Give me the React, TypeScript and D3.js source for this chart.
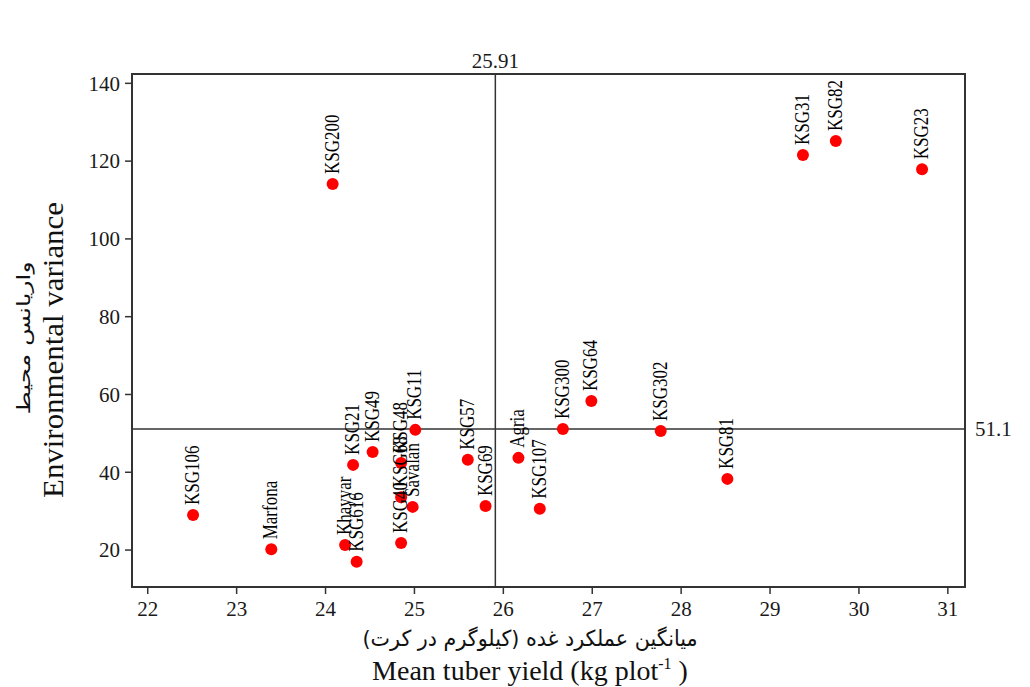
import React from "react";
import * as d3 from "d3";

// genotypes with mean tuber yield (kg/plot) and environmental variance
const genotypes = [
  "KSG106", "Marfona", "Khayyar", "KSG616", "KSG21", "KSG49", "KSG48", "KSG68",
  "Savalan", "KSG40", "KSG11", "KSG57", "KSG69", "Agria", "KSG107", "KSG300",
  "KSG64", "KSG302", "KSG81", "KSG200", "KSG31", "KSG82", "KSG23",
];
const yieldValues = [
  22.51, 23.39, 24.22, 24.35, 24.31, 24.53, 24.85, 24.85,
  24.98, 24.85, 25.01, 25.6, 25.8, 26.17, 26.41, 26.67,
  26.99, 27.77, 28.52, 24.08, 29.37, 29.74, 30.71,
];
const varianceValues = [
  29.0, 20.2, 21.3, 17.0, 41.9, 45.2, 42.4, 33.6,
  31.1, 21.8, 50.9, 43.2, 31.3, 43.7, 30.6, 51.1,
  58.3, 50.6, 38.3, 114.1, 121.6, 125.2, 117.9,
];
const xTicks = [22, 23, 24, 25, 26, 27, 28, 29, 30, 31];
const yTicks = [20, 40, 60, 80, 100, 120, 140];
const meanYield = 25.91;
const meanVariance = 51.1;

const W = 1030;
const H = 687;
const plot = { left: 132, right: 965, top: 74, bottom: 587 };
const serif = "'Liberation Serif', 'Times New Roman', serif";

export default function App() {
  const x = d3.scaleLinear().domain([21.823, 31.193]).range([plot.left, plot.right]);
  const y = d3.scaleLinear().domain([10.5, 142.4]).range([plot.bottom, plot.top]);

  const points = genotypes.map((g, i) => ({ name: g, cx: x(yieldValues[i]), cy: y(varianceValues[i]) }));

  return (
    <div style={{ position: "absolute", left: 0, top: 0 }}>
      <svg width={W} height={H} style={{ display: "block", background: "#fff" }}>
        {/* frame */}
        <rect
          x={plot.left}
          y={plot.top}
          width={plot.right - plot.left}
          height={plot.bottom - plot.top}
          fill="none"
          stroke="#333"
          strokeWidth={2}
        />

        {/* mean lines */}
        <line x1={x(meanYield)} x2={x(meanYield)} y1={plot.top} y2={plot.bottom} stroke="#333" strokeWidth={1.5} />
        <line x1={plot.left} x2={plot.right} y1={y(meanVariance)} y2={y(meanVariance)} stroke="#333" strokeWidth={1.5} />
        <text x={x(meanYield)} y={68} textAnchor="middle" fontFamily={serif} fontSize={21} fill="#1a1a1a">
          {meanYield}
        </text>
        <text x={plot.right + 10} y={y(meanVariance)} dy="0.35em" fontFamily={serif} fontSize={21} fill="#1a1a1a">
          {meanVariance}
        </text>

        {/* x axis */}
        {xTicks.map((t) => (
          <g key={"x" + t} transform={`translate(${x(t)},${plot.bottom})`}>
            <line y1={0} y2={7} stroke="#333" strokeWidth={1.5} />
            <text y={29} textAnchor="middle" fontFamily={serif} fontSize={21} fill="#1a1a1a">
              {t}
            </text>
          </g>
        ))}

        {/* y axis */}
        {yTicks.map((t) => (
          <g key={"y" + t} transform={`translate(${plot.left},${y(t)})`}>
            <line x1={0} x2={-7} stroke="#333" strokeWidth={1.5} />
            <text x={-12} dy="0.35em" textAnchor="end" fontFamily={serif} fontSize={21} fill="#1a1a1a">
              {t}
            </text>
          </g>
        ))}

        {/* points */}
        {points.map((p) => (
          <circle key={p.name} cx={p.cx} cy={p.cy} r={6} fill="#ff0000" />
        ))}
        {points.map((p) => (
          <text
            key={"l" + p.name}
            transform={`translate(${p.cx - 1},${p.cy - 10}) rotate(-90) scale(0.85,1)`}
            dy="0.35em"
            fontFamily={serif}
            fontSize={20}
            fill="#000"
          >
            {p.name}
          </text>
        ))}

        {/* axis titles */}
        <text
          x={530}
          y={646}
          textAnchor="middle"
          fontFamily="'DejaVu Sans', sans-serif"
          fontSize={22}
          textLength={335}
          lengthAdjust="spacingAndGlyphs"
          direction="rtl"
          fill="#111"
        >
          میانگین عملکرد غده (کیلوگرم در کرت)
        </text>
        <text
          x={530}
          y={680}
          textAnchor="middle"
          fontFamily={serif}
          fontSize={28}
          fill="#111"
        >
          Mean tuber yield (kg plot<tspan dy={-11} fontSize={16}>-1</tspan>
          <tspan dy={11}> )</tspan>
        </text>
        <text
          transform="translate(63,350) rotate(-90)"
          textAnchor="middle"
          fontFamily={serif}
          fontSize={30}
          textLength={296}
          lengthAdjust="spacingAndGlyphs"
          fill="#111"
        >
          Environmental variance
        </text>
        <text
          transform="translate(30,338) rotate(-90)"
          textAnchor="middle"
          fontFamily="'DejaVu Sans', sans-serif"
          fontSize={18}
          textLength={153}
          lengthAdjust="spacingAndGlyphs"
          direction="rtl"
          fill="#111"
        >
          واریانس محیط
        </text>
      </svg>
    </div>
  );
}
